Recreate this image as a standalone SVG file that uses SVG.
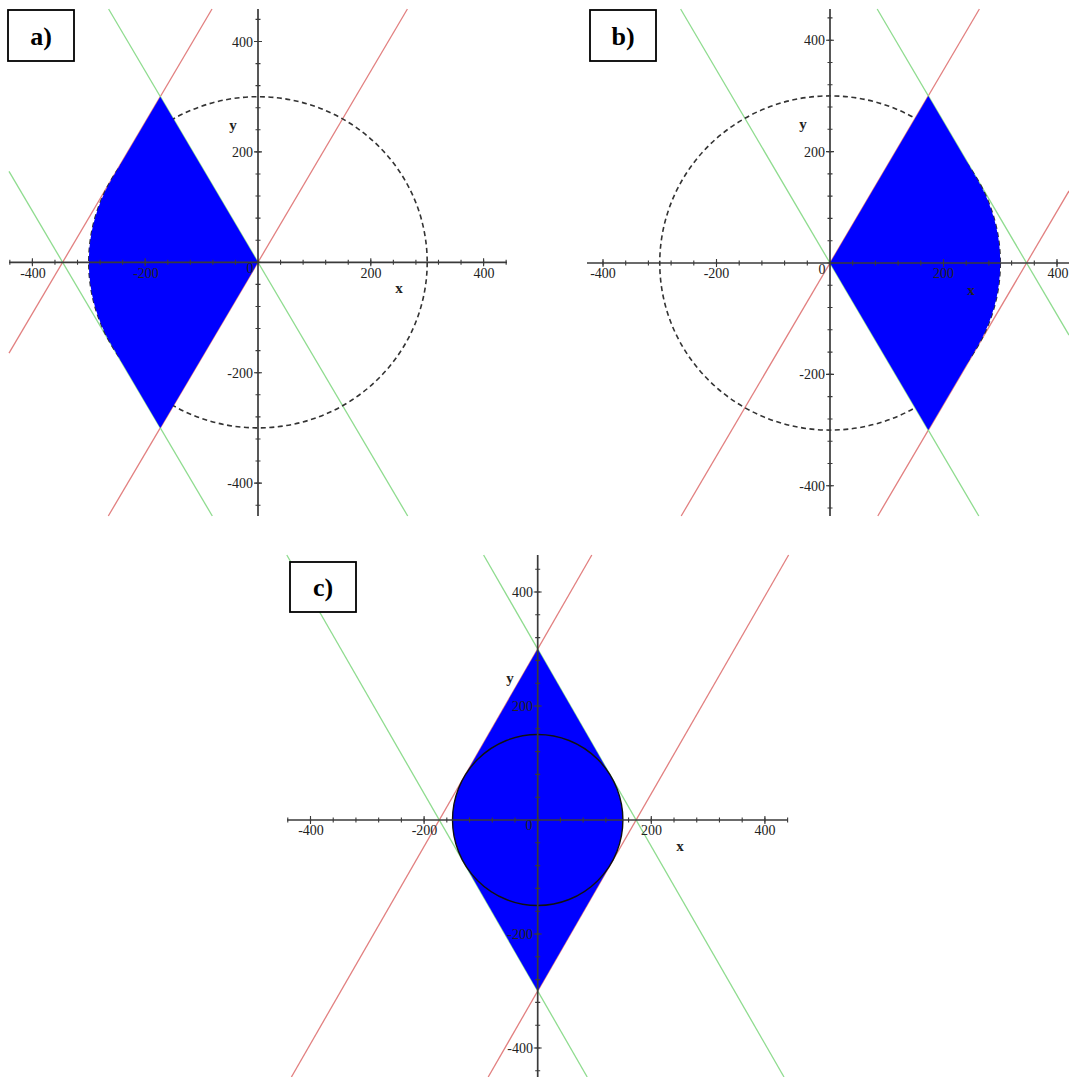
<svg xmlns="http://www.w3.org/2000/svg" width="1069" height="1077" viewBox="0 0 1069 1077">
<style>
.red{stroke:#e28080;stroke-width:1.3;fill:none}
.grn{stroke:#8fdc8f;stroke-width:1.3;fill:none}
.circ{fill:none;stroke:#333;stroke-width:1.6;stroke-dasharray:5,3.5}
.circs{fill:none;stroke:#111;stroke-width:1.4}
.reg{fill:#0000ff;stroke:none}
.ax{stroke:#3a3a3a;stroke-width:1.7;fill:none}
.tk{stroke:#3a3a3a;stroke-width:1.1;fill:none}
.lbl{font-family:"Liberation Serif","Times New Roman",serif;font-size:14px;fill:#222}
.mid{text-anchor:middle}
.end{text-anchor:end}
.var{font-family:"Liberation Serif","Times New Roman",serif;font-size:15px;font-weight:bold;fill:#222;text-anchor:middle}
.box{fill:#fff;stroke:#000;stroke-width:1.8}
.tag{font-family:"Liberation Serif","Times New Roman",serif;font-size:26px;font-weight:bold;fill:#000;text-anchor:middle}
</style>

<g id="panel-a">
  <g id="a-lines">
    <line class="red" x1="108.3" y1="516" x2="407.4" y2="9"/>
    <line class="red" x1="9" y1="353.2" x2="212" y2="9"/>
    <line class="grn" x1="108.6" y1="9" x2="407.7" y2="516"/>
    <line class="grn" x1="9" y1="171.4" x2="212.3" y2="516"/>
  </g>
  <ellipse class="circ" cx="258" cy="262.3" rx="169.2" ry="165.6"/>
  <path class="reg" d="M258,262.3 L160.3,96.7 L111.5,179.5 A169.2,165.6 0 0 0 111.5,345.1 L160.3,427.9 Z"/>
  <g id="a-axes">
    <line class="ax" x1="9" y1="262.3" x2="507" y2="262.3"/>
    <line class="ax" x1="258" y1="9" x2="258" y2="516"/>
    <path class="tk" d="M9.84,259.8v5m22.56,-5v5m22.56,-5v5m22.56,-5v5m22.56,-5v5m22.56,-5v5m22.56,-5v5m22.56,-5v5m22.56,-5v5m22.56,-5v5m22.56,-5v5m22.56,-5v5m22.56,-5v5m22.56,-5v5m22.56,-5v5m22.56,-5v5m22.56,-5v5m22.56,-5v5m22.56,-5v5m22.56,-5v5m22.56,-5v5m22.56,-5v5m22.56,-5v5"/>
    <path class="tk" d="M32.4,258.3v8M145.2,258.3v8M370.8,258.3v8M483.6,258.3v8"/>
    <path class="tk" d="M255.5,19.42h5m-5,22.08h5m-5,22.08h5m-5,22.08h5m-5,22.08h5m-5,22.08h5m-5,22.08h5m-5,22.08h5m-5,22.08h5m-5,22.08h5m-5,22.08h5m-5,22.08h5m-5,22.08h5m-5,22.08h5m-5,22.08h5m-5,22.08h5m-5,22.08h5m-5,22.08h5m-5,22.08h5m-5,22.08h5m-5,22.08h5m-5,22.08h5m-5,22.08h5"/>
    <path class="tk" d="M254,41.5h8M254,151.9h8M254,372.7h8M254,483.1h8"/>
  </g>
  <g id="a-labels">
    <text class="lbl mid" x="33" y="278">-400</text>
    <text class="lbl mid" x="146" y="278">-200</text>
    <text class="lbl mid" x="250" y="273">0</text>
    <text class="lbl mid" x="371" y="278">200</text>
    <text class="lbl mid" x="484" y="278">400</text>
    <text class="lbl end" x="253" y="46.5">400</text>
    <text class="lbl end" x="253" y="156.9">200</text>
    <text class="lbl end" x="253" y="377.7">-200</text>
    <text class="lbl end" x="253" y="488.1">-400</text>
    <text class="var" x="399" y="293">x</text>
    <text class="var" x="233" y="130">y</text>
  </g>
  <g id="a-tag">
    <rect class="box" x="8" y="10" width="66" height="51"/>
    <text class="tag" x="41" y="45">a)</text>
  </g>
</g>

<g id="panel-b">
  <g id="b-lines">
    <line class="red" x1="681.2" y1="516" x2="979.4" y2="9"/>
    <line class="red" x1="877.8" y1="516" x2="1069" y2="190.9"/>
    <line class="grn" x1="680.6" y1="9" x2="978.8" y2="516"/>
    <line class="grn" x1="877.2" y1="9" x2="1069" y2="335.1"/>
  </g>
  <ellipse class="circ" cx="830" cy="263" rx="170.25" ry="167.1"/>
  <path class="reg" d="M830,263 L928.3,95.9 L977.4,179.4 A170.25,167.1 0 0 1 977.4,346.6 L928.3,430.1 Z"/>
  <g id="b-axes">
    <line class="ax" x1="587" y1="263" x2="1069" y2="263"/>
    <line class="ax" x1="830" y1="9" x2="830" y2="516"/>
    <path class="tk" d="M603,260.5v5m22.7,-5v5m22.7,-5v5m22.7,-5v5m22.7,-5v5m22.7,-5v5m22.7,-5v5m22.7,-5v5m22.7,-5v5m22.7,-5v5m22.7,-5v5m22.7,-5v5m22.7,-5v5m22.7,-5v5m22.7,-5v5m22.7,-5v5m22.7,-5v5m22.7,-5v5m22.7,-5v5m22.7,-5v5m22.7,-5v5"/>
    <path class="tk" d="M603,259v8M716.5,259v8M943.5,259v8M1057,259v8"/>
    <path class="tk" d="M827.5,17.9h5m-5,22.28h5m-5,22.28h5m-5,22.28h5m-5,22.28h5m-5,22.28h5m-5,22.28h5m-5,22.28h5m-5,22.28h5m-5,22.28h5m-5,22.28h5m-5,22.28h5m-5,22.28h5m-5,22.28h5m-5,22.28h5m-5,22.28h5m-5,22.28h5m-5,22.28h5m-5,22.28h5m-5,22.28h5m-5,22.28h5m-5,22.28h5m-5,22.28h5"/>
    <path class="tk" d="M826,40.2h8M826,151.6h8M826,374.4h8M826,485.8h8"/>
  </g>
  <g id="b-labels">
    <text class="lbl mid" x="603" y="278">-400</text>
    <text class="lbl mid" x="716.5" y="278">-200</text>
    <text class="lbl mid" x="822" y="274">0</text>
    <text class="lbl mid" x="943.5" y="278">200</text>
    <text class="lbl mid" x="1058" y="278">400</text>
    <text class="lbl end" x="825" y="45.2">400</text>
    <text class="lbl end" x="825" y="156.6">200</text>
    <text class="lbl end" x="825" y="379.4">-200</text>
    <text class="lbl end" x="825" y="490.8">-400</text>
    <text class="var" x="971" y="295">x</text>
    <text class="var" x="803" y="129">y</text>
  </g>
  <g id="b-tag">
    <rect class="box" x="590" y="10" width="66" height="51"/>
    <text class="tag" x="623" y="45">b)</text>
  </g>
</g>

<g id="panel-c">
  <g id="c-lines">
    <line class="red" x1="291.4" y1="1077" x2="591.8" y2="555"/>
    <line class="red" x1="488.2" y1="1077" x2="788.6" y2="555"/>
    <line class="grn" x1="483.6" y1="555" x2="784" y2="1077"/>
    <line class="grn" x1="286.8" y1="555" x2="587.2" y2="1077"/>
  </g>
  <path class="reg" d="M537.7,649 L611.5,777.25 A85.2,85.5 0 0 1 611.5,862.75 L537.7,991 L463.9,862.75 A85.2,85.5 0 0 1 463.9,777.25 Z"/>
  <ellipse class="circs" cx="537.7" cy="820" rx="85.2" ry="85.5"/>
  <g id="c-axes">
    <line class="ax" x1="287" y1="820" x2="788" y2="820"/>
    <line class="ax" x1="537.7" y1="555" x2="537.7" y2="1077"/>
    <path class="tk" d="M287.78,817.5v5m22.72,-5v5m22.72,-5v5m22.72,-5v5m22.72,-5v5m22.72,-5v5m22.72,-5v5m22.72,-5v5m22.72,-5v5m22.72,-5v5m22.72,-5v5m22.72,-5v5m22.72,-5v5m22.72,-5v5m22.72,-5v5m22.72,-5v5m22.72,-5v5m22.72,-5v5m22.72,-5v5m22.72,-5v5m22.72,-5v5m22.72,-5v5m22.72,-5v5"/>
    <path class="tk" d="M310.5,816v8M424.1,816v8M651.3,816v8M764.9,816v8"/>
    <path class="tk" d="M535.2,569.2h5m-5,22.8h5m-5,22.8h5m-5,22.8h5m-5,22.8h5m-5,22.8h5m-5,22.8h5m-5,22.8h5m-5,22.8h5m-5,22.8h5m-5,22.8h5m-5,22.8h5m-5,22.8h5m-5,22.8h5m-5,22.8h5m-5,22.8h5m-5,22.8h5m-5,22.8h5m-5,22.8h5m-5,22.8h5m-5,22.8h5m-5,22.8h5m-5,22.8h5"/>
    <path class="tk" d="M533.7,592h8M533.7,706h8M533.7,934h8M533.7,1048h8"/>
  </g>
  <g id="c-labels">
    <text class="lbl mid" x="311" y="835">-400</text>
    <text class="lbl mid" x="424.5" y="835">-200</text>
    <text class="lbl mid" x="529" y="830">0</text>
    <text class="lbl mid" x="651.5" y="835">200</text>
    <text class="lbl mid" x="765" y="835">400</text>
    <text class="lbl end" x="533" y="597">400</text>
    <text class="lbl end" x="533" y="711">200</text>
    <text class="lbl end" x="533" y="939">-200</text>
    <text class="lbl end" x="533" y="1053">-400</text>
    <text class="var" x="680" y="851">x</text>
    <text class="var" x="510" y="683">y</text>
  </g>
  <g id="c-tag">
    <rect class="box" x="290" y="562" width="66" height="50"/>
    <text class="tag" x="323" y="596">c)</text>
  </g>
</g>
</svg>
